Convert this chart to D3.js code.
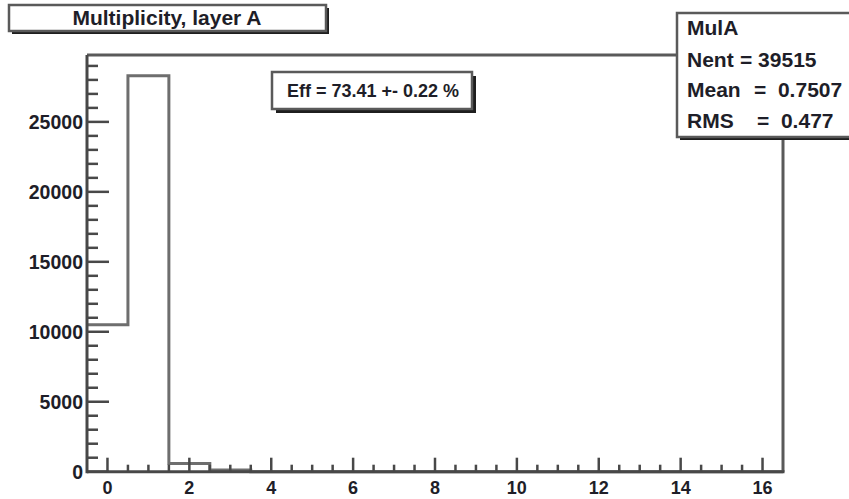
<!DOCTYPE html>
<html>
<head>
<meta charset="utf-8">
<script src="https://cdn.jsdelivr.net/npm/d3@7"></script>
<style>
  html, body { margin: 0; padding: 0; background: #fff; }
  svg { display: block; }
  text { font-family: "Liberation Sans", Arial, Helvetica, sans-serif; font-weight: bold; fill: #1e1e28; }
</style>
</head>
<body>
<script>
// ---- data ----
const binCenters = [0, 1, 2, 3, 4, 5, 6, 7, 8, 9, 10, 11, 12, 13, 14, 15, 16];
const binCounts  = [10510, 28290, 590, 125, 0, 0, 0, 0, 0, 0, 0, 0, 0, 0, 0, 0, 0];
const xTickValues = [0, 2, 4, 6, 8, 10, 12, 14, 16];
const yTickValues = [0, 5000, 10000, 15000, 20000, 25000];
const titleText = "Multiplicity, layer A";
const statLabels = ["MulA", "Nent", "Mean", "RMS"];
const statValues = ["", "= 39515", "=  0.7507", "=  0.477"];
const effText = "Eff = 73.41 +- 0.22 %";

const W = 849, H = 499;
const svg = d3.select("body").append("svg").attr("width", W).attr("height", H);

const plot = { left: 87, right: 783, top: 55, bottom: 471.7 };
const x = d3.scaleLinear().domain([-0.5, 16.5]).range([plot.left, plot.right]);
const y = d3.scaleLinear().domain([0, 29780]).range([plot.bottom, plot.top]);

// frame (top & right)
svg.append("path")
  .attr("d", `M${plot.left},${plot.top}H${plot.right}V${plot.bottom}`)
  .attr("fill", "none").attr("stroke", "#5a5a5a").attr("stroke-width", 3);

// histogram step line
const pts = binCenters.map((c, i) => [c - 0.5, binCounts[i]]);
pts.push([16.5, binCounts[binCounts.length - 1]]);
const line = d3.line().x(d => x(d[0])).y(d => y(d[1])).curve(d3.curveStepAfter);
svg.append("path").datum(pts).attr("d", line)
  .attr("fill", "none").attr("stroke", "#6e6e6e").attr("stroke-width", 3);

// axes lines
const axisColor = "#484848";
svg.append("line").attr("x1", plot.left).attr("x2", plot.left).attr("y1", plot.top).attr("y2", plot.bottom + 1.5)
  .attr("stroke", axisColor).attr("stroke-width", 3);
svg.append("line").attr("x1", plot.left).attr("x2", plot.right + 1.5).attr("y1", plot.bottom).attr("y2", plot.bottom)
  .attr("stroke", axisColor).attr("stroke-width", 3);

// y ticks: major every 5000, minor every 1000
const yMinor = d3.range(0, 30000, 1000).filter(v => v <= y.domain()[1]);
svg.append("g").selectAll("line").data(yMinor).join("line")
  .attr("x1", plot.left).attr("x2", d => plot.left + (d % 5000 === 0 ? 22 : 11))
  .attr("y1", d => y(d)).attr("y2", d => y(d))
  .attr("stroke", axisColor).attr("stroke-width", 2.5);
svg.append("g").selectAll("text").data(yTickValues).join("text")
  .attr("x", plot.left - 4).attr("y", d => y(d)).attr("dy", "0.36em")
  .attr("text-anchor", "end").attr("font-size", 19.5).text(d => d);

// x ticks: major every 2, minor every 0.5
const xMinor = d3.range(0, 16.01, 0.5);
svg.append("g").selectAll("line").data(xMinor).join("line")
  .attr("x1", d => x(d)).attr("x2", d => x(d))
  .attr("y1", plot.bottom).attr("y2", d => plot.bottom - (d % 2 === 0 ? 14 : 7))
  .attr("stroke", axisColor).attr("stroke-width", 2.5);
svg.append("g").selectAll("text").data(xTickValues).join("text")
  .attr("x", d => x(d)).attr("y", 494)
  .attr("text-anchor", "middle").attr("font-size", 18).text(d => d);

// helper for boxes with shadow
function shadowBox(bx, by, bw, bh, sh) {
  svg.append("rect").attr("x", bx + sh).attr("y", by + sh).attr("width", bw).attr("height", bh).attr("fill", "#1e1e1e");
  svg.append("rect").attr("x", bx).attr("y", by).attr("width", bw).attr("height", bh)
    .attr("fill", "#fff").attr("stroke", "#5a5a5a").attr("stroke-width", 2.5);
}

// title box
shadowBox(9, 5, 317, 26, 3);
svg.append("text").attr("x", 167).attr("y", 25).attr("text-anchor", "middle").attr("font-size", 21).text(titleText);

// stats box
shadowBox(677, 13, 190, 124, 3);
const statY = [35, 67, 97, 128];
const statValX = [0, 740, 754, 757];
statLabels.forEach((l, i) => {
  svg.append("text").attr("x", 687).attr("y", statY[i]).attr("font-size", 21).text(l);
  if (statValues[i]) svg.append("text").attr("x", statValX[i]).attr("y", statY[i]).attr("font-size", 21)
    .attr("xml:space", "preserve").style("white-space", "pre").text(statValues[i]);
});

// efficiency box
shadowBox(272, 72, 200, 37, 4);
svg.append("text").attr("x", 373).attr("y", 97).attr("text-anchor", "middle").attr("font-size", 18).text(effText);
</script>
</body>
</html>
